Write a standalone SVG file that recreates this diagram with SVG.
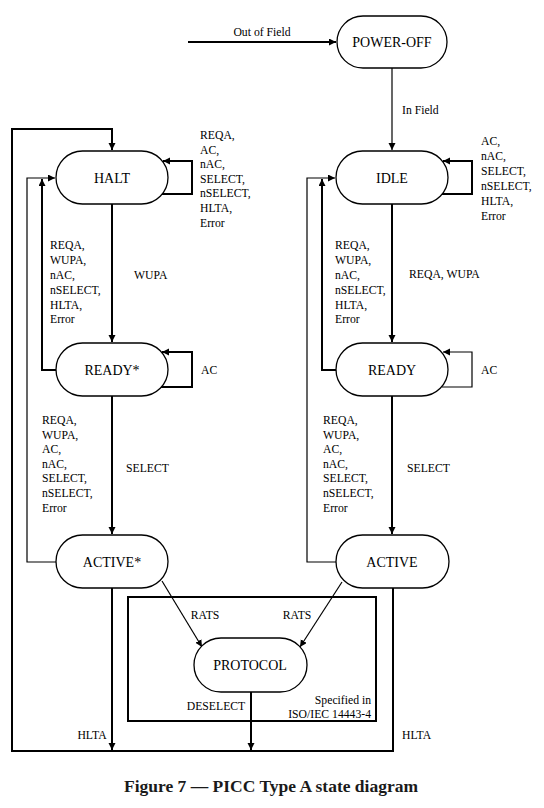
<svg xmlns="http://www.w3.org/2000/svg" width="544" height="808" viewBox="0 0 544 808">
<style>
.node rect{fill:#fff;stroke:#000;stroke-width:1.3}
.nt{font-family:"Liberation Serif",serif;font-size:14px;text-anchor:middle;fill:#000}
.lb{font-family:"Liberation Serif",serif;font-size:11.7px;fill:#000}
.thick{fill:none;stroke:#000;stroke-width:2}
.thin{fill:none;stroke:#000;stroke-width:1.2}
.cap{font-family:"Liberation Serif",serif;font-size:17.5px;font-weight:bold;text-anchor:middle;fill:#1a1a1a}
</style>
<defs>
<marker id="ah" markerUnits="userSpaceOnUse" markerWidth="8" markerHeight="8" refX="7" refY="3.5" orient="auto">
<path d="M0,0 L7,3.5 L0,7 z" fill="#000"/>
</marker>
</defs>
<rect width="544" height="808" fill="#fff"/>
<g id="connectors">
<path class="thick" d="M188,42 H336" marker-end="url(#ah)"/>
<path class="thin" d="M392,68 V150" marker-end="url(#ah)"/>
<path class="thick" d="M162,194 H192 V161 H163" marker-end="url(#ah)"/>
<path class="thick" d="M112,204 V342" marker-end="url(#ah)"/>
<path class="thick" d="M56,370 H42 V179" marker-end="url(#ah)"/>
<path class="thin" d="M56,562 H27 V178 H55" marker-end="url(#ah)"/>
<path class="thick" d="M161,387 H192 V352 H162" marker-end="url(#ah)"/>
<path class="thick" d="M112,396 V534" marker-end="url(#ah)"/>
<path class="thick" d="M112,588 V750" marker-end="url(#ah)"/>
<path class="thick" d="M442,194 H472 V161 H443" marker-end="url(#ah)"/>
<path class="thick" d="M392,204 V342" marker-end="url(#ah)"/>
<path class="thick" d="M337,370 H322 V179" marker-end="url(#ah)"/>
<path class="thin" d="M336,562 H307 V178 H335" marker-end="url(#ah)"/>
<path class="thin" d="M442,387 H472 V352 H443" marker-end="url(#ah)"/>
<path class="thick" d="M392,396 V534" marker-end="url(#ah)"/>
<path class="thick" d="M393,588 V751 H12 V129 H112 V150" marker-end="url(#ah)"/>
<path class="thin" d="M162,581 L202,647" marker-end="url(#ah)"/>
<path class="thin" d="M342,582 L300,647" marker-end="url(#ah)"/>
<path class="thick" d="M251,692 V750" marker-end="url(#ah)"/>
</g>
<g id="iso-box">
<rect x="128" y="597" width="248" height="124" fill="none" stroke="#000" stroke-width="2"/>
<text class="lb" x="371" y="704" text-anchor="end">Specified in</text>
<text class="lb" x="371" y="718" text-anchor="end">ISO/IEC 14443-4</text>
</g>
<g id="power-off" class="node"><rect x="337" y="16" width="110" height="52" rx="26" ry="26"/><text class="nt" x="392" y="47">POWER-OFF</text></g>
<g id="halt" class="node"><rect x="56" y="151" width="112" height="53" rx="26.5" ry="26.5"/><text class="nt" x="112" y="183">HALT</text></g>
<g id="idle" class="node"><rect x="336" y="151" width="112" height="53" rx="26.5" ry="26.5"/><text class="nt" x="392" y="183">IDLE</text></g>
<g id="ready-star" class="node"><rect x="56" y="343" width="112" height="53" rx="26.5" ry="26.5"/><text class="nt" x="112" y="375">READY*</text></g>
<g id="ready" class="node"><rect x="336" y="343" width="112" height="53" rx="26.5" ry="26.5"/><text class="nt" x="392" y="375">READY</text></g>
<g id="active-star" class="node"><rect x="56" y="535" width="112" height="53" rx="26.5" ry="26.5"/><text class="nt" x="112" y="567">ACTIVE*</text></g>
<g id="active" class="node"><rect x="336" y="535" width="113" height="53" rx="26.5" ry="26.5"/><text class="nt" x="392" y="567">ACTIVE</text></g>
<g id="protocol" class="node"><rect x="194" y="638" width="113" height="54" rx="27" ry="27"/><text class="nt" x="250" y="670">PROTOCOL</text></g>
<g id="labels">
<text class="lb" x="262" y="36" text-anchor="middle">Out of Field</text>
<text class="lb" x="402" y="114">In Field</text>
<text class="lb" x="200" y="139">REQA,</text>
<text class="lb" x="200" y="154">AC,</text>
<text class="lb" x="200" y="168">nAC,</text>
<text class="lb" x="200" y="183">SELECT,</text>
<text class="lb" x="200" y="197">nSELECT,</text>
<text class="lb" x="200" y="212">HLTA,</text>
<text class="lb" x="200" y="227">Error</text>
<text class="lb" x="481" y="145">AC,</text>
<text class="lb" x="481" y="160">nAC,</text>
<text class="lb" x="481" y="175">SELECT,</text>
<text class="lb" x="481" y="190">nSELECT,</text>
<text class="lb" x="481" y="205">HLTA,</text>
<text class="lb" x="481" y="220">Error</text>
<text class="lb" x="50" y="249">REQA,</text>
<text class="lb" x="50" y="264">WUPA,</text>
<text class="lb" x="50" y="279">nAC,</text>
<text class="lb" x="50" y="294">nSELECT,</text>
<text class="lb" x="50" y="309">HLTA,</text>
<text class="lb" x="50" y="323">Error</text>
<text class="lb" x="134" y="279">WUPA</text>
<text class="lb" x="335" y="249">REQA,</text>
<text class="lb" x="335" y="264">WUPA,</text>
<text class="lb" x="335" y="279">nAC,</text>
<text class="lb" x="335" y="294">nSELECT,</text>
<text class="lb" x="335" y="309">HLTA,</text>
<text class="lb" x="335" y="323">Error</text>
<text class="lb" x="409" y="278">REQA, WUPA</text>
<text class="lb" x="201" y="374">AC</text>
<text class="lb" x="481" y="374">AC</text>
<text class="lb" x="42" y="424">REQA,</text>
<text class="lb" x="42" y="439">WUPA,</text>
<text class="lb" x="42" y="453">AC,</text>
<text class="lb" x="42" y="468">nAC,</text>
<text class="lb" x="42" y="482">SELECT,</text>
<text class="lb" x="42" y="497">nSELECT,</text>
<text class="lb" x="42" y="512">Error</text>
<text class="lb" x="126" y="472">SELECT</text>
<text class="lb" x="323" y="424">REQA,</text>
<text class="lb" x="323" y="439">WUPA,</text>
<text class="lb" x="323" y="453">AC,</text>
<text class="lb" x="323" y="468">nAC,</text>
<text class="lb" x="323" y="482">SELECT,</text>
<text class="lb" x="323" y="497">nSELECT,</text>
<text class="lb" x="323" y="512">Error</text>
<text class="lb" x="407" y="472">SELECT</text>
<text class="lb" x="205" y="619" text-anchor="middle">RATS</text>
<text class="lb" x="297" y="619" text-anchor="middle">RATS</text>
<text class="lb" x="216" y="710" text-anchor="middle">DESELECT</text>
<text class="lb" x="92" y="739" text-anchor="middle">HLTA</text>
<text class="lb" x="402" y="739">HLTA</text>
</g>
<text class="cap" x="271" y="792">Figure 7 — PICC Type A state diagram</text>
</svg>
